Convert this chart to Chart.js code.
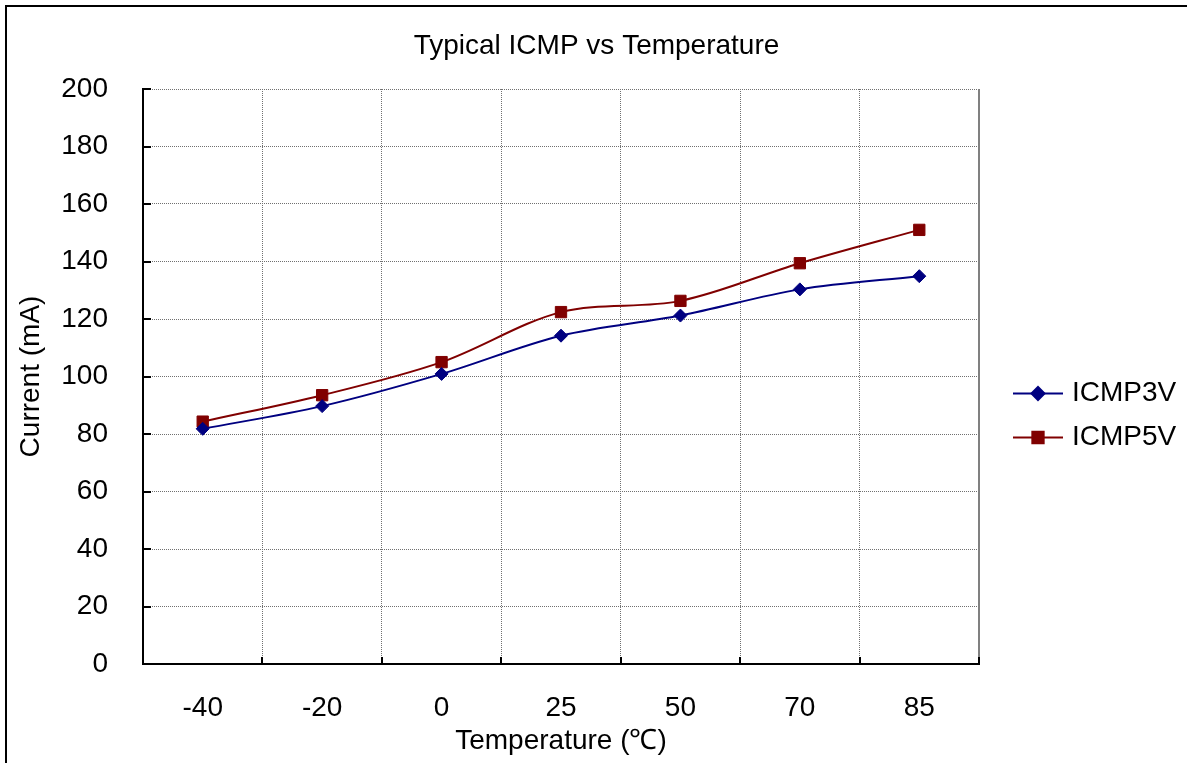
<!DOCTYPE html>
<html><head><meta charset="utf-8">
<script src="https://cdn.jsdelivr.net/npm/chart.js@4.4.1/dist/chart.umd.min.js"></script>
<style>html,body{margin:0;padding:0;background:#fff;overflow:hidden}canvas{display:block}</style>
</head><body>
<canvas id="c" width="1187" height="763"></canvas>
<script>
const categories = ['-40', '-20', '0', '25', '50', '70', '85'];
const icmp3v = [81.8, 89.7, 100.9, 114.2, 121.2, 130.3, 134.9];
const icmp5v = [84.3, 93.5, 105.0, 122.4, 126.3, 139.4, 151.0];
const yMin = 0, yMax = 200, yStep = 20;
const chartTitle = 'Typical ICMP vs Temperature';
const xTitle = 'Temperature (℃)';
const yTitle = 'Current (mA)';
const FONT = '"Liberation Sans", Arial, sans-serif';

const framePlugin = {
  id: 'frame',
  beforeDraw(chart) {
    const ctx = chart.ctx;
    ctx.save();
    ctx.fillStyle = '#fff';
    ctx.fillRect(0, 0, chart.width, chart.height);
    ctx.fillStyle = '#000';
    ctx.fillRect(5, 5, 2, chart.height);
    ctx.fillRect(5, 5, chart.width, 2);
    // chart title (centred on the whole chart frame)
    ctx.font = '28px ' + FONT;
    ctx.textAlign = 'center';
    ctx.textBaseline = 'middle';
    ctx.fillText(chartTitle, chart.width / 2 + 3, 46);
    ctx.restore();
  },
  afterDraw(chart) {
    const ctx = chart.ctx, a = chart.chartArea;
    const xs = chart.scales.x, ys = chart.scales.y;
    ctx.save();
    // right plot edge
    ctx.fillStyle = '#808080';
    ctx.fillRect(a.right - 1, a.top, 2, a.bottom - a.top);
    // inward tick marks
    ctx.fillStyle = '#000';
    ys.ticks.forEach((t, i) => {
      const py = Math.round(ys.getPixelForTick(i));
      ctx.fillRect(a.left, py - 1, 8, 2);
    });
    for (let i = 0; i <= categories.length; i++) {
      const px = Math.round(xs.getPixelForValue(i - 0.5));
      ctx.fillRect(px - 1, a.bottom - 7, 2, 7);
    }
    // legend
    const cy = (a.top + a.bottom) / 2 + 17;
    const x0 = a.right + 34;
    chart.data.datasets.forEach((ds, i) => {
      const y = cy + i * 44;
      ctx.strokeStyle = ds.borderColor;
      ctx.lineWidth = 2;
      ctx.beginPath();
      ctx.moveTo(x0, y);
      ctx.lineTo(x0 + 50, y);
      ctx.stroke();
      ctx.fillStyle = ds.backgroundColor;
      ctx.strokeStyle = ds.borderColor;
      Chart.helpers.drawPoint(ctx, {pointStyle: ds.pointStyle, radius: ds.pointRadius, borderWidth: 1, rotation: 0}, x0 + 25, y);
      ctx.fillStyle = '#000';
      ctx.font = '28px ' + FONT;
      ctx.textBaseline = 'middle';
      ctx.textAlign = 'left';
      ctx.fillText(ds.label, x0 + 59, y);
    });
    ctx.restore();
  }
};

new Chart(document.getElementById('c'), {
  type: 'line',
  data: {
    labels: categories,
    datasets: [
      {label: 'ICMP3V', data: icmp3v, borderColor: '#000080', backgroundColor: '#000080',
       borderWidth: 2, pointStyle: 'rectRot', pointRadius: 6.5, pointHoverRadius: 6.5,
       pointBorderWidth: 1, tension: 0.33},
      {label: 'ICMP5V', data: icmp5v, borderColor: '#800000', backgroundColor: '#800000',
       borderWidth: 2, pointStyle: 'rect', pointRadius: 8, pointHoverRadius: 8,
       pointBorderWidth: 1, tension: 0.33}
    ]
  },
  options: {
    responsive: false,
    animation: false,
    devicePixelRatio: 1,
    layout: {padding: {left: 0, top: 89, right: 208, bottom: 0}},
    plugins: {
      legend: {display: false},
      tooltip: {enabled: false},
      title: {display: false}
    },
    scales: {
      x: {
        offset: true,
        grid: {offset: true, color: '#707070', lineWidth: 1, drawTicks: false},
        border: {display: true, color: '#000', width: 2, dash: [1, 1]},
        ticks: {color: '#000', padding: 27, font: {family: FONT, size: 28}},
        title: {display: true, text: xTitle, color: '#000', font: {family: FONT, size: 28},
                padding: {top: 0, bottom: 5}},
        afterFit(s) { s.height = 99; }
      },
      y: {
        min: yMin, max: yMax,
        grid: {color: '#707070', lineWidth: 1, drawTicks: false},
        border: {display: true, color: '#000', width: 2, dash: [1, 1]},
        ticks: {stepSize: yStep, color: '#000', padding: 35, font: {family: FONT, size: 28}},
        title: {display: true, text: yTitle, color: '#000', font: {family: FONT, size: 28},
                padding: {top: 14, bottom: 0}},
        afterFit(s) { s.width = 143; }
      }
    }
  },
  plugins: [framePlugin]
});
</script>
</body></html>
